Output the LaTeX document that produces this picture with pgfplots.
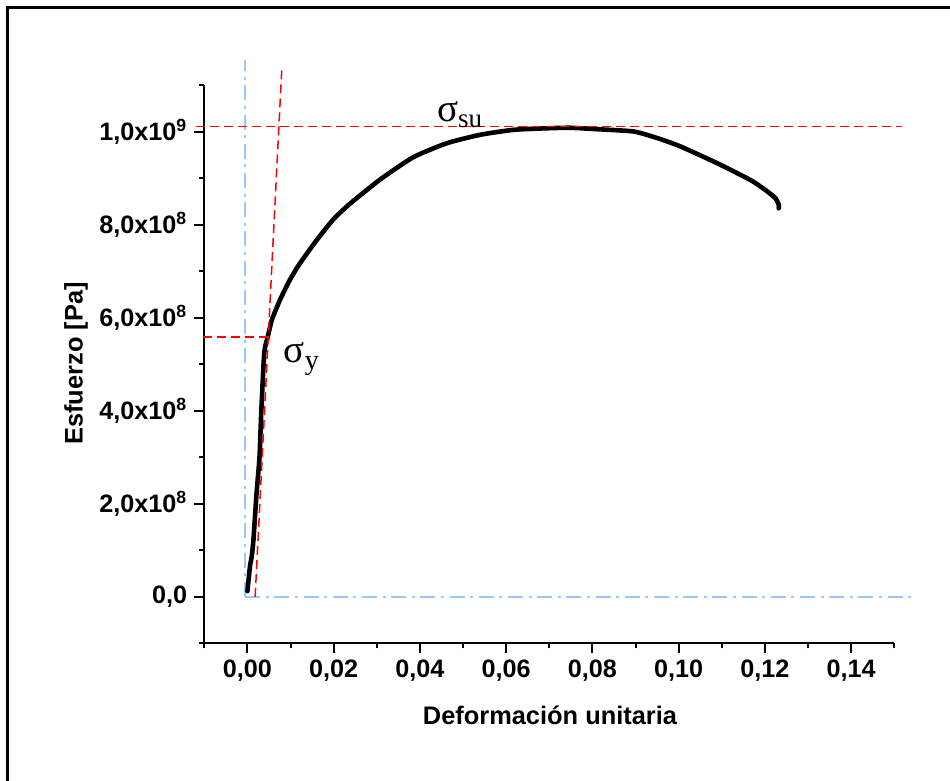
\documentclass[border=0pt]{standalone}
\usepackage{pgfplots}
\pgfplotsset{compat=1.18}
\usepackage{fontspec}
\setmainfont{Liberation Sans}
\newfontfamily\serif{Liberation Serif}
\definecolor{ltblue}{RGB}{150,200,250}
\begin{document}
\begin{tikzpicture}
\useasboundingbox (0,0) rectangle (475pt,390.5pt);
\draw[line width=1.5pt] (3.65pt,0) -- (3.65pt,386.85pt) -- (475pt,386.85pt);
\node[rotate=90,anchor=center,font={\fontsize{12.7}{14}\selectfont\bfseries}] at (38pt,208.75pt) {Esfuerzo [Pa]};
\node[anchor=base,font={\fontsize{12.7}{14}\selectfont\bfseries}] at (275pt,28pt) {Deformación unitaria};
\begin{axis}[
  at={(102.15pt,68.85pt)}, anchor=south west,
  width=345pt, height=279.15pt, scale only axis,
  xmin=-0.01, xmax=0.15, ymin=-1e8, ymax=1.1e9,
  axis x line=bottom, axis y line=left,
  axis line style={-, line width=1pt},
  tick align=outside,
  major tick length=5pt, minor tick length=2.5pt,
  every tick/.style={black, line width=1pt},
  xtick={0,0.02,0.04,0.06,0.08,0.10,0.12,0.14},
  xticklabels={{0,00},{0,02},{0,04},{0,06},{0,08},{0,10},{0,12},{0,14}},
  minor xtick={-0.01,0.01,0.03,0.05,0.07,0.09,0.11,0.13,0.15},
  ytick={0,2e8,4e8,6e8,8e8,1e9},
  yticklabels={{0,0},{2,0x10\textsuperscript{8}},{4,0x10\textsuperscript{8}},{6,0x10\textsuperscript{8}},{8,0x10\textsuperscript{8}},{1,0x10\textsuperscript{9}}},
  minor ytick={-1e8,1e8,3e8,5e8,7e8,9e8,1.1e9},
  tick label style={font={\fontsize{12.6}{14}\selectfont\bfseries}},
  scaled ticks=false,
  clip=false,
]
\addplot[ltblue, line width=1pt, dash pattern=on 7.5pt off 2.8pt on 1.5pt off 2.8pt] coordinates {(-0.0005,0) (-0.0005,1.154e9)};
\addplot[ltblue, line width=1pt, dash pattern=on 7.5pt off 2.8pt on 1.5pt off 2.8pt] coordinates {(-0.0005,0) (0.1538,0)};
\addplot[black, line width=2.3pt, line join=round, line cap=round, smooth, tension=0.35] coordinates {
(0.0000,1.2e7) (0.0006,6.6e7) (0.0010,8.7e7) (0.0014,1.23e8) (0.0021,2.2e8)
(0.0028,3.0e8) (0.0032,3.95e8) (0.0039,5.24e8) (0.0047,5.58e8) (0.0057,5.96e8)
(0.0076,6.39e8) (0.0099,6.82e8) (0.0122,7.17e8) (0.0161,7.67e8) (0.0200,8.12e8)
(0.0238,8.45e8) (0.0308,8.97e8) (0.0385,9.45e8) (0.0463,9.75e8) (0.0540,9.93e8)
(0.0617,1.0036e9) (0.0695,1.007e9) (0.0749,1.008e9) (0.0811,1.005e9) (0.0896,1.000e9)
(0.0950,9.86e8) (0.1004,9.68e8) (0.1089,9.32e8) (0.1166,8.96e8) (0.1200,8.75e8)
(0.1224,8.57e8) (0.1232,8.43e8) (0.1232,8.35e8)};
\addplot[red, line width=0.75pt, dash pattern=on 4.5pt off 2.5pt] coordinates {(-0.0119,1.0107e9) (0.1519,1.0107e9)};
\addplot[red, line width=0.75pt, dash pattern=on 4.5pt off 2.5pt] coordinates {(0.00179,0) (0.00798,1.136e9)};
\addplot[red, line width=0.75pt, dash pattern=on 4.5pt off 2.5pt] coordinates {(-0.0102,5.584e8) (0.00487,5.584e8)};
\node[anchor=base west, inner sep=0pt] at (axis cs:0.0439,1.0215e9) {\serif\fontsize{19.5}{20}\selectfont σ\raisebox{-2.8pt}{\fontsize{13.5}{14}\selectfont su}};
\node[anchor=base west, inner sep=0pt] at (axis cs:0.00835,5.026e8) {\serif\fontsize{19.5}{20}\selectfont σ\raisebox{-3.3pt}{\fontsize{14}{14}\selectfont y}};
\end{axis}
\end{tikzpicture}
\end{document}
